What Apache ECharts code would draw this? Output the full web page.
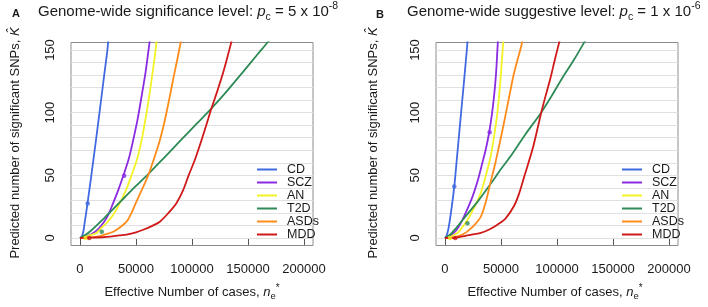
<!DOCTYPE html>
<html>
<head>
<meta charset="utf-8">
<script src="https://cdn.jsdelivr.net/npm/echarts@6/dist/echarts.min.js"></script>
<style>
  html, body { margin: 0; padding: 0; background: #fff; }
  #chart { width: 708px; height: 307px; }
</style>
</head>
<body>
<div id="chart"></div>
<script>
// ---- data ----
const names = ['CD', 'SCZ', 'AN', 'T2D', 'ASDs', 'MDD'];
const colors = ['#4169E1', '#8A2BE2', '#F2F226', '#2E8B57', '#FF8C1A', '#D01A1A'];
const xTicks = [0, 50000, 100000, 150000, 200000];
const yTicks = [0, 50, 100, 150];
const gridValues = [0, 10, 20, 30, 40, 50, 60, 70, 80, 90, 100, 110, 120, 130, 140, 150];

// panel A: p_c = 5e-8
const cdA = [[0,0],[1500,1],[3000,5],[4500,14],[6500,26],[10000,49],[14000,76],[18000,104],[21500,129],[24500,150],[25300,158]];
const sczA = [[0,0],[5000,1],[10000,3],[15000,6],[20800,12],[25000,18],[29700,28],[34500,39],[38800,50],[43500,63],[47500,78],[51500,95],[55000,113],[58500,132],[61200,150],[62400,158]];
const anA = [[0,0],[5000,0.8],[10000,2.5],[14900,4],[19000,8],[23800,12],[30000,19],[35700,28],[41000,38],[46000,50],[51000,63],[55000,78],[58500,95],[61800,113],[64800,132],[67500,150],[68500,158]];
const t2dA = [[0,0],[5000,2.5],[10000,6],[20000,14.5],[30000,23.5],[40000,32.5],[50000,41.5],[60900,51],[75000,64],[90000,78],[104000,91],[117400,103.5],[130000,116],[145000,132],[158000,146],[168000,156.6],[170000,159]];
const asdA = [[0,0],[10000,0.5],[17800,1.5],[23000,3],[29700,5],[35000,8],[41600,13],[46000,20],[49900,28],[55000,38],[60900,50],[66000,63],[71300,78],[76000,95],[80200,113],[83500,128],[87000,143],[90000,156.6],[90700,159.6]];
const mddA = [[0,0],[10000,0.3],[20000,0.6],[26700,1],[35000,2],[41600,2.7],[50000,4.5],[56500,6.6],[64000,9.5],[71300,13],[79000,20],[86200,28],[92000,38],[97000,50],[102000,61],[107000,74],[112000,88],[117400,103.5],[122500,117],[127500,131],[131500,144],[135200,156.6],[136000,159]];
const dotsA = [[6900,27.5],[39500,49.6],[5000,0],[19500,5],[8300,0]];
const dotColorsA = [0, 1, 2, 3, 5];

// panel B: p_c = 1e-6
const cdB = [[0,0],[1500,2],[3000,7],[5000,18],[8300,41],[11000,67],[14400,100],[17000,125],[19500,150],[20200,158]];
const sczB = [[0,0],[5000,2],[10000,6],[14200,12],[19000,21],[24600,33],[29000,45],[33400,60],[36500,71],[39400,84],[41800,98],[43800,113],[45500,130],[46800,150],[47300,158]];
const anB = [[0,0],[4000,0.5],[7000,2],[11200,4],[15000,8],[20100,14.6],[26000,24],[32000,36],[36500,50],[40800,65],[44000,82],[46800,100],[49000,120],[51500,150],[52200,158]];
const t2dB = [[0,0],[5000,3],[10000,8],[20000,19],[30000,30],[41400,44],[50000,55],[60000,67],[72000,83],[85800,100],[95000,113],[105000,128],[115000,142],[124600,156.6],[126000,159]];
const asdB = [[0,0],[5000,0.3],[11200,1.3],[16000,3],[20100,5.3],[26000,10],[32000,17],[36500,29],[40800,45],[44500,58],[48200,73],[52000,89],[55600,105],[58500,118],[61500,131],[65000,143],[67500,151],[69000,157],[70000,160]];
const mddB = [[0,0],[8900,0],[14200,1],[20000,2],[26000,3],[32000,4],[40000,7],[46800,10.6],[54000,15.5],[61600,25.5],[66000,35],[71100,50],[78800,73],[85900,100],[90000,114],[94000,127],[98000,142],[102100,156.6],[103000,160]];
const dotsB = [[8300,41],[39900,84.4],[4500,0],[20100,11.7],[9200,0]];
const dotColorsB = [0, 1, 2, 3, 5];

const curvesA = [cdA, sczA, anA, t2dA, asdA, mddA];
const curvesB = [cdB, sczB, anB, t2dB, asdB, mddB];

// ---- chart ----
const font = 'Liberation Sans, Arial, sans-serif';
const ink = '#1a1a1a';

function makeX(gi) {
  return {
    type: 'value', gridIndex: gi, min: -8000, max: 208000,
    axisLine: { show: false },
    splitLine: { show: false },
    axisTick: { show: true, customValues: xTicks, length: 7, lineStyle: { color: '#555' } },
    axisLabel: { customValues: xTicks, margin: 17, fontSize: 13, color: ink, fontFamily: font, formatter: v => String(v) }
  };
}
function makeY(gi) {
  return {
    type: 'value', gridIndex: gi, min: -6, max: 156,
    axisLine: { show: false },
    splitLine: { show: false },
    axisTick: { show: true, customValues: yTicks, length: 7, lineStyle: { color: '#555' } },
    axisLabel: { customValues: yTicks, margin: 14, fontSize: 13, color: ink, fontFamily: font, rotate: 90, formatter: v => String(v) }
  };
}

function panelSeries(gi, curves, dots, dotColors) {
  const out = [];
  // horizontal grid lines every 10 units
  out.push({
    type: 'line', xAxisIndex: gi, yAxisIndex: gi, data: [[-8000, -6]],
    showSymbol: false, lineStyle: { opacity: 0 }, silent: true, z: 2,
    markLine: {
      z: 2, silent: true, symbol: ['none', 'none'], label: { show: false },
      lineStyle: { color: '#e0e0e0', width: 1.2, type: 'solid' },
      data: gridValues.map(v => ({ yAxis: v }))
    }
  });
  curves.forEach((c, i) => {
    out.push({
      name: names[i], type: 'line', xAxisIndex: gi, yAxisIndex: gi,
      data: c, showSymbol: false, smooth: 0.3,
      color: colors[i], lineStyle: { width: 1.8, color: colors[i] }, z: 3
    });
  });
  out.push({
    type: 'scatter', xAxisIndex: gi, yAxisIndex: gi, symbolSize: 4.5, z: 4,
    data: dots.map((d, i) => ({ value: d, itemStyle: { color: colors[dotColors[i]] } }))
  });
  return out;
}

function legendAt(left) {
  return {
    data: names, orient: 'vertical', left: left, top: 158, icon: 'rect', z: 6,
    itemWidth: 20, itemHeight: 2, itemGap: 0, selectedMode: false,
    textStyle: { fontSize: 12.5, lineHeight: 12.4, color: ink, fontFamily: font, padding: [0, 0, 0, 5] }
  };
}

const rich = {
  t: { fontSize: 15, fontFamily: font, fill: ink },
  i: { fontSize: 15, fontFamily: font, fontStyle: 'italic', fill: ink },
  sub: { fontSize: 10.5, fontFamily: font, fill: ink, verticalAlign: 'bottom', lineHeight: 22 },
  sup: { fontSize: 10.5, fontFamily: font, fill: ink, verticalAlign: 'top', lineHeight: 22 },
  n: { fontSize: 13, fontFamily: font, fill: ink },
  ni: { fontSize: 13, fontFamily: font, fontStyle: 'italic', fill: ink },
  ns: { fontSize: 9.5, fontFamily: font, fill: ink, verticalAlign: 'bottom', lineHeight: 18 },
  nsup: { fontSize: 10, fontFamily: font, fill: ink, verticalAlign: 'top', lineHeight: 18 }
};

function textEl(x, y, text, opts) {
  return Object.assign({
    type: 'text', x: x, y: y,
    style: { text: text, rich: rich, fill: ink, textAlign: 'left', textVerticalAlign: 'middle', font: '13px ' + font }
  }, opts || {});
}

const xName = '{n|Effective Number of cases, }{ni|n}{ns|e}{nsup|*}';
const yName = '{n|Predicted number of significant SNPs, }{ni|K\u0302}';

const chart = echarts.init(document.getElementById('chart'), null, { renderer: 'canvas' });
chart.setOption({
  animation: false,
  backgroundColor: '#fff',
  grid: [
    { left: 71, top: 42.5, width: 242, height: 203, show: true, borderColor: '#8c8c8c', borderWidth: 1, backgroundColor: 'transparent' },
    { left: 436, top: 42.5, width: 242, height: 203, show: true, borderColor: '#8c8c8c', borderWidth: 1, backgroundColor: 'transparent' }
  ],
  xAxis: [makeX(0), makeX(1)],
  yAxis: [makeY(0), makeY(1)],
  legend: [legendAt(252), legendAt(617)],
  series: panelSeries(0, curvesA, dotsA, dotColorsA).concat(panelSeries(1, curvesB, dotsB, dotColorsB)),
  graphic: [
    textEl(12, 14, 'A', { style: { text: 'A', fill: ink, font: 'bold 11px ' + font, textVerticalAlign: 'middle' } }),
    textEl(376, 15, 'B', { style: { text: 'B', fill: ink, font: 'bold 11px ' + font, textVerticalAlign: 'middle' } }),
    textEl(38, 12, '{t|Genome-wide significance level: }{i|p}{sub|c}{t| = 5 x 10}{sup|-8}'),
    textEl(407, 12, '{t|Genome-wide suggestive level: }{i|p}{sub|c}{t| = 1 x 10}{sup|-6}'),
    textEl(192, 292, '', { style: { text: xName, rich: rich, textAlign: 'center', textVerticalAlign: 'middle' } }),
    textEl(555, 292, '', { style: { text: xName, rich: rich, textAlign: 'center', textVerticalAlign: 'middle' } }),
    textEl(15, 143, '', { rotation: Math.PI / 2, style: { text: yName, rich: rich, textAlign: 'center', textVerticalAlign: 'middle' } }),
    textEl(373, 143, '', { rotation: Math.PI / 2, style: { text: yName, rich: rich, textAlign: 'center', textVerticalAlign: 'middle' } })
  ]
});
</script>
</body>
</html>
